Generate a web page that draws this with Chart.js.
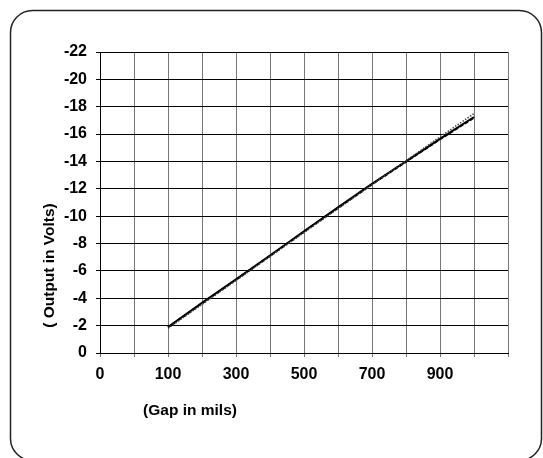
<!DOCTYPE html>
<html><head><meta charset="utf-8">
<script src="https://cdn.jsdelivr.net/npm/chart.js@4"></script>
<style>html,body{margin:0;padding:0;background:#fff;}#wrap{width:543px;height:458px;position:relative}</style>
</head><body><div id="wrap"><canvas id="c"></canvas></div>
<script>
// Gap categories (mils); tick labels shown on every second category
const categories = ['0','50','100','200','300','400','500','600','700','800','900','1000',''];
// Output in volts
const measured = [null,null,-1.9,-3.66,-5.38,-7.13,-8.9,-10.64,-12.36,-14.0,-15.65,-17.25,null];
const averaged = [null,null,-1.88,-3.63,-5.36,-7.1,-8.87,-10.6,-12.33,-13.98,-15.62,-17.2,null];
const ideal    = [null,null,-1.8,-3.55,-5.3,-7.05,-8.8,-10.55,-12.3,-14.05,-15.8,-17.5,null];
const xTitle = '(Gap in mils)';
const yTitle = '( Output in Volts)';
const FONT = "'Liberation Sans', Arial, sans-serif";

const decor = {
  id: 'decor',
  beforeDraw(chart) {
    const ctx = chart.ctx;
    ctx.save();
    ctx.fillStyle = '#fff';
    ctx.fillRect(0, 0, chart.width, chart.height);
    ctx.strokeStyle = '#222';
    ctx.lineWidth = 1.5;
    ctx.beginPath();
    ctx.roundRect(10.5, 10.5, 531, 450, 22);
    ctx.stroke();
    ctx.restore();
  },
  afterDraw(chart) {
    const ctx = chart.ctx, a = chart.chartArea;
    ctx.save();
    ctx.fillStyle = '#000';
    ctx.font = 'bold 15.5px ' + FONT;
    ctx.textAlign = 'center';
    ctx.textBaseline = 'middle';
    ctx.fillText(xTitle, a.left + 90, a.bottom + 58);
    ctx.translate(a.left - 50, (a.top + a.bottom) / 2 + 63);
    ctx.rotate(-Math.PI / 2);
    ctx.fillText(yTitle, 0, 0);
    ctx.restore();
  }
};

new Chart(document.getElementById('c'), {
  type: 'line',
  data: {
    labels: categories,
    datasets: [
      { label: 'Ideal', data: ideal, borderColor: '#444', borderWidth: 1.5, borderDash: [1.5, 1.5], pointRadius: 0, fill: false, order: 0 },
      { label: 'Averaged', data: averaged, borderColor: '#000', borderWidth: 2, borderDash: [4, 2], pointRadius: 0, fill: false, order: 1 },
      { label: 'Measured', data: measured, borderColor: '#000', borderWidth: 2, pointRadius: 0, fill: false, order: 2 }
    ]
  },
  options: {
    responsive: true,
    maintainAspectRatio: false,
    animation: false,
    layout: { padding: { top: 52, right: 35, left: 0, bottom: 0 } },
    plugins: { legend: { display: false }, tooltip: { enabled: false } },
    scales: {
      x: {
        type: 'category',
        offset: false,
        grid: { color: '#777', lineWidth: 1, tickLength: 4, drawTicks: true },
        border: { color: '#000', width: 1 },
        ticks: {
          autoSkip: false, maxRotation: 0, color: '#000', padding: 8,
          font: { family: FONT, size: 16, weight: 'bold' },
          callback: function(v, i) { return i % 2 === 0 ? categories[i] : ''; }
        },
        afterFit(s) { s.height = 105; }
      },
      y: {
        type: 'linear',
        reverse: true,
        min: -22, max: 0,
        grid: { color: '#000', lineWidth: 1, tickLength: 4 },
        border: { color: '#000', width: 1 },
        ticks: { stepSize: 2, color: '#000', padding: 9, font: { family: FONT, size: 16, weight: 'bold' } },
        afterFit(s) { s.width = 100; }
      }
    }
  },
  plugins: [decor]
});
</script>
</body></html>
